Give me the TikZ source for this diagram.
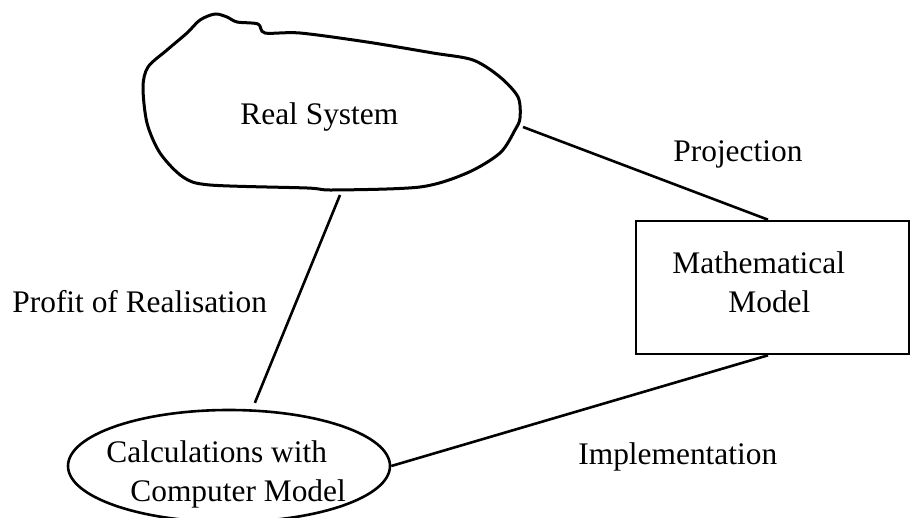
\documentclass[tikz,border=0pt]{standalone}
\usepackage{fontspec}
\setmainfont{Liberation Serif}
\usetikzlibrary{shapes.geometric}

\tikzset{
  txt/.style={font=\fontsize{15.7}{19.5}\selectfont, inner sep=0pt, anchor=base west},
  edge/.style={line width=1.3pt},
  blob/.style={line width=1.5pt, line join=round}
}

\begin{document}
\begin{tikzpicture}[x=0.5pt, y=-0.5pt]
				\useasboundingbox (0,0) rectangle (911,518);
				\clip (0,0) rectangle (911,518);
				
				% Real System (hand-drawn outline)
				\draw[blob] plot[smooth cycle, tension=0.5] coordinates {
					(215,14) (227,17) (237,22) (258,24) (265,33) (300,33) (367,42)
					(433,53) (473,60) (500,77) (518,97) (520,118) (515,130) (500,153)
					(467,173) (420,187) (333,190) (307,188) (210,185) (183,177)
					(160,153) (147,123) (143,87) (148,67) (167,50) (187,33) (200,20)};
				\node[txt] (rs) at (240,125) {Real System};
				\coordinate (rs-e) at (523,127); % right side of the outline
				\coordinate (rs-s) at (340,195); % below the outline
				
				% Mathematical Model
				\node[draw, line width=1.3pt, minimum width=136.5pt, minimum height=66.5pt] (math) at (772.5,287.5) {};
				\node[txt, align=left] (mathtxt) at (672,313) {Mathematical\\\hspace*{28pt}Model};
				
				% Calculations with Computer Model
				\node[draw, ellipse, line width=1.3pt, minimum width=161pt, minimum height=56pt] (calc) at (229,466) {};
				\node[txt, align=left] (calctxt) at (106,502) {Calculations with\\\hspace*{12pt}Computer Model};
				
				% Labels
				\node[txt] (proj) at (673,162) {Projection};
				\node[txt] (profit) at (12,313) {Profit of Realisation};
				\node[txt] (impl) at (578,465) {Implementation};
				
				% Connecting lines
				\draw[edge] (rs-e) -- ([xshift=-2.25pt]math.north); % to the model
				\draw[edge, shorten >=3.5pt] (rs-s) -- (calc); % to the calculations
				\draw[edge] ([xshift=-2.25pt]math.south) -- (calc.east); % model to calculations
			\end{tikzpicture}
\end{document}
